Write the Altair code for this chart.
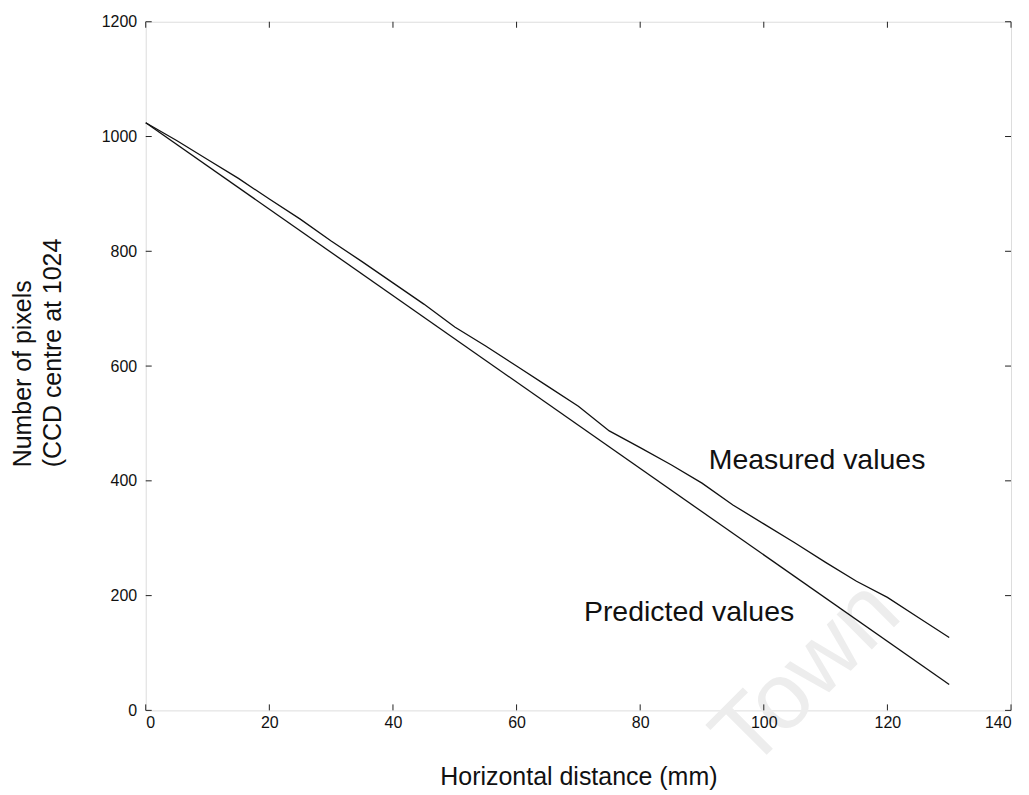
import altair as alt
import pandas as pd

# ---- data ----
x_ticks = [0, 20, 40, 60, 80, 100, 120, 140]
y_ticks = [0, 200, 400, 600, 800, 1000, 1200]

pred_x = [0, 130]
pred_y = [1024, 45]

meas_x = [0, 5, 10, 15, 20, 25, 30, 35, 40, 45, 50, 55, 60, 65,
          70, 75, 80, 85, 90, 95, 100, 105, 110, 115, 120, 125, 130]
meas_y = [1024, 993, 960, 927, 891, 856, 818, 782, 745, 708, 668, 635, 600, 565,
          530, 487, 458, 428, 396, 358, 325, 292, 258, 225, 197, 162, 127]

label_text = ["Measured values", "Predicted values"]
label_x = [91.1, 70.9]
label_y = [436, 172]

wm_text = ["Town"]
wm_x = [107]
wm_y = [62]

FONT = "Liberation Sans"
W, H = 867, 690
TICK = 6

pred_df = pd.DataFrame({"x": pred_x, "y": pred_y})
meas_df = pd.DataFrame({"x": meas_x, "y": meas_y})
lab_df = pd.DataFrame({"t": label_text, "x": label_x, "y": label_y})
wm_df = pd.DataFrame({"t": wm_text, "x": wm_x, "y": wm_y})
xt_df = pd.DataFrame({"x": x_ticks})
yt_df = pd.DataFrame({"y": y_ticks})

xs = alt.Scale(domain=[0, 140], nice=False)
ys = alt.Scale(domain=[0, 1200], nice=False)

x_axis = alt.Axis(values=x_ticks, orient="bottom", format="d", ticks=False,
                  domain=False, grid=False, labelPadding=4, zindex=1,
                  labelFont=FONT, labelFontSize=16, labelColor="#111",
                  title="Horizontal distance (mm)", titleFont=FONT,
                  titleFontSize=25, titleFontWeight="normal", titleColor="#111",
                  titlePadding=34)
y_axis = alt.Axis(values=y_ticks, orient="left", format="d", ticks=False,
                  domain=False, grid=False, labelPadding=9, zindex=1,
                  labelFont=FONT, labelFontSize=16, labelColor="#111",
                  title=["Number of pixels", "(CCD centre at 1024"],
                  titleFont=FONT, titleFontSize=25, titleFontWeight="normal",
                  titleColor="#111", titleAngle=270, titleAlign="left",
                  titleBaseline="bottom", titleLineHeight=30,
                  titleX=-110, titleY=446)

X = alt.X("x:Q", scale=xs, axis=x_axis)
Y = alt.Y("y:Q", scale=ys, axis=y_axis)

watermark = alt.Chart(wm_df).mark_text(
    font=FONT, fontSize=94, angle=315, color="#ededed",
    align="center", baseline="middle"
).encode(x=X, y=Y, text="t:N")

pred_line = alt.Chart(pred_df).mark_line(color="#111", strokeWidth=1.3).encode(x=X, y=Y)
meas_line = alt.Chart(meas_df).mark_line(color="#111", strokeWidth=1.3).encode(x=X, y=Y)

labels = alt.Chart(lab_df).mark_text(
    font=FONT, fontSize=28.5, color="#111", align="left", baseline="middle"
).encode(x=X, y=Y, text="t:N")

# inward ticks on all four sides
tick_b = alt.Chart(xt_df).mark_rule(color="#222", strokeWidth=1).encode(
    x=X, y=alt.value(H), y2=alt.value(H - TICK))
tick_t = alt.Chart(xt_df).mark_rule(color="#222", strokeWidth=1).encode(
    x=X, y=alt.value(0), y2=alt.value(TICK))
tick_l = alt.Chart(yt_df).mark_rule(color="#222", strokeWidth=1).encode(
    y=Y, x=alt.value(0), x2=alt.value(TICK))
tick_r = alt.Chart(yt_df).mark_rule(color="#222", strokeWidth=1).encode(
    y=Y, x=alt.value(W), x2=alt.value(W - TICK))

chart = alt.layer(
    watermark, pred_line, meas_line, labels, tick_b, tick_t, tick_l, tick_r
).properties(
    width=W, height=H,
    autosize=alt.AutoSizeParams(type="none"),
    padding={"left": 138, "top": 13, "right": 10, "bottom": 84},
).configure_view(
    stroke="#333", strokeWidth=1.2
).configure(background="white")

chart.save("out.html", embed_options={"renderer": "svg", "actions": False})
